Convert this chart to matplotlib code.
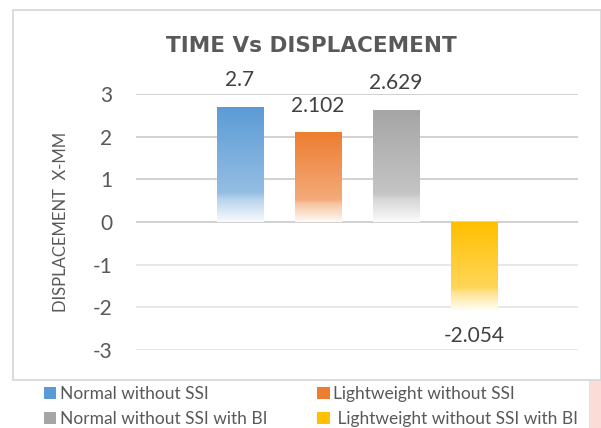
import numpy as np
import matplotlib
matplotlib.use("Agg")
import matplotlib.pyplot as plt
from matplotlib.patches import Rectangle, Patch
from matplotlib.colors import to_rgb

# ---- data ----
series = ["Normal without SSI", "Lightweight without SSI",
          "Normal without SSI with BI", " Lightweight without SSI with BI"]
values = [2.7, 2.102, 2.629, -2.054]
value_labels = ["2.7", "2.102", "2.629", "-2.054"]
colors = ["#5B9BD5", "#ED7D31", "#A5A5A5", "#FFC000"]
yticks = [-3, -2, -1, 0, 1, 2, 3]
title = "TIME Vs DISPLACEMENT"
ylabel = "DISPLACEMENT  X-MM"

plt.rcParams['font.family'] = ['Lato', 'DejaVu Sans']
plt.rcParams['axes.unicode_minus'] = False

W, H = 601, 428
fig = plt.figure(figsize=(W / 100, H / 100), dpi=100)
fig.patch.set_facecolor('white')

# page background pieces
fig.patches.append(Rectangle((589 / W, 0), (W - 589) / W, (428 - 380) / H, transform=fig.transFigure,
                             facecolor="#fcdcd6", edgecolor='none', zorder=-2))
# chart border
fig.patches.append(Rectangle((13 / W, (428 - 380) / H), (W - 13) / W, (380 - 10) / H,
                             transform=fig.transFigure, facecolor='white',
                             edgecolor='#d6d6d6', lw=1.2, zorder=-1))

ax = fig.add_axes([136 / W, (428 - 350) / H, (578 - 136) / W, (350 - 94) / H])
ax.set_facecolor('none')
ax.set_zorder(1)

x = np.arange(len(values))
bars = ax.bar(x, values, width=0.6, color='none', edgecolor='none', zorder=2)

# gradient fill (Excel-like: full colour at top, fading to white at the bottom)
n = 256
t = np.linspace(0, 1, n)
mix = np.interp(t, [0, 0.75, 0.8, 1.0], [0.0, 0.35, 0.55, 0.96])
for b, c in zip(bars, colors):
    rgb = np.array(to_rgb(c))
    img = (rgb[None, :] * (1 - mix[:, None]) + mix[:, None])[:, None, :]
    x0 = b.get_x()
    x1 = x0 + b.get_width()
    y0 = b.get_y()
    y1 = y0 + b.get_height()
    im = ax.imshow(img, extent=(x0, x1, min(y0, y1), max(y0, y1)), origin='upper',
                   aspect='auto', zorder=2, interpolation='bilinear')
    im.set_clip_path(b)

for xi, v, lab in zip(x, values, value_labels):
    ax.annotate(lab, (xi, v), xytext=(0, 19 if v > 0 else -19), textcoords='offset points',
                ha='center', va='center', fontsize=15, color='#404040', annotation_clip=False)

ax.set_xlim(-1.333, 4.333)
ax.set_ylim(-3, 3)
ax.set_yticks(yticks)
ax.set_xticks([])
ax.tick_params(axis='y', length=0, pad=17, labelsize=15, labelcolor='#595959')
for s in ax.spines.values():
    s.set_visible(False)
ax.yaxis.grid(True, lw=1.2)
for gl, v in zip(ax.get_ygridlines(), yticks):
    gl.set_color('#c9c9c9' if v >= 0 else '#e3e3e3')
ax.set_axisbelow(True)

fig.text(61 / W, 1 - 222 / H, ylabel, rotation=90, ha='center', va='center',
         fontsize=12, color='#595959')
fig.text(311 / W, 1 - 46 / H, title, ha='center', va='center', fontsize=15.5,
         fontweight='bold', color='#595959', family=['DejaVu Sans'])

handles = [Patch(facecolor=c, edgecolor='none') for c in colors]
order = [0, 2, 1, 3]
leg = fig.legend([handles[i] for i in order], [series[i] for i in order], ncol=2,
                 loc='upper left', bbox_to_anchor=(44 / W, 1 - 386 / H), frameon=False,
                 fontsize=12.5, handlelength=0.7, handleheight=0.7, handletextpad=0.2,
                 columnspacing=2.9, labelspacing=0.5, borderaxespad=0, borderpad=0)
for tx in leg.get_texts():
    tx.set_color('#595959')

fig.savefig("out.png", dpi=100)
